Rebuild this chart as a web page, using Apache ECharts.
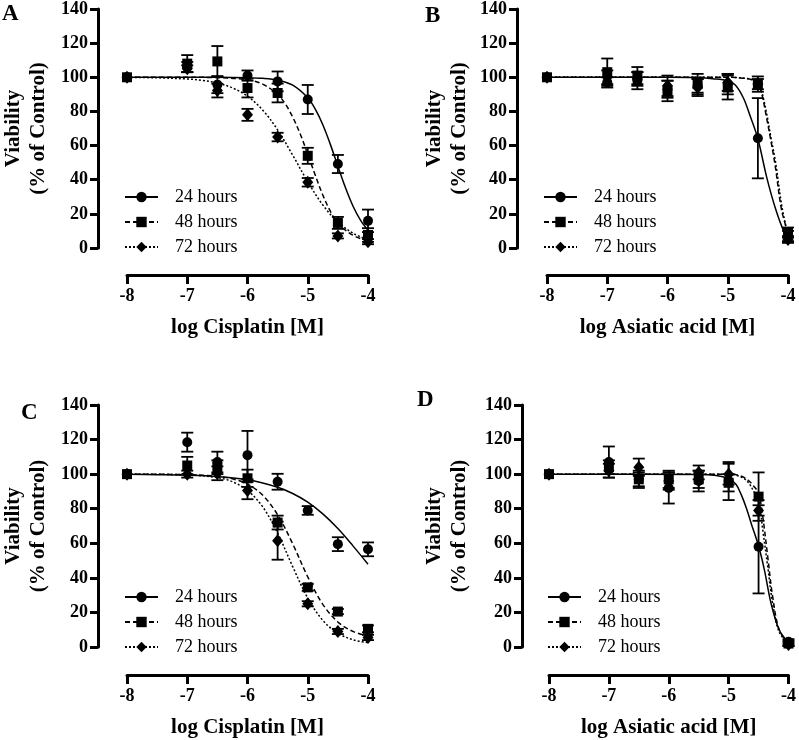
<!DOCTYPE html>
<html><head><meta charset="utf-8">
<script src="https://cdn.jsdelivr.net/npm/echarts@6/dist/echarts.min.js"></script>
<style>html,body{margin:0;padding:0;background:#fff}#c{width:799px;height:740px}</style>
</head><body><div id="c"></div>
<script>
// ---------- data ----------
const doses = [-8, -7, -6.5, -6, -5.5, -5, -4.5, -4];
const timeLabels = ['24 hours', '48 hours', '72 hours'];
const panelLetters = ['A', 'B', 'C', 'D'];
const xTitles = ['log Cisplatin [M]', 'log Asiatic acid [M]', 'log Cisplatin [M]', 'log Asiatic acid [M]'];
const yTitle = 'Viability\n(% of Control)';
const xTicks = [-8, -7, -6, -5, -4];
const yTicks = [0, 20, 40, 60, 80, 100, 120, 140];

// Panel A (cisplatin)
const aMean24 = [100, 106, 95.7, 101, 97.6, 87, 49.2, 15.9];
const aErr24  = [0, 3, 5, 3, 5.8, 8.5, 5.3, 6.6];
const aMean48 = [100, 108, 109.3, 93.7, 90.8, 54, 14.7, 7.6];
const aErr48  = [0, 5, 9, 5.5, 5.5, 4.7, 3.5, 4];
const aMean72 = [100, 105, 92.2, 78, 65, 38.5, 7.1, 3.7];
const aErr72  = [0, 2, 4, 3.5, 2.5, 2.5, 1.5, 1.5];
const aFit24 = [[-8,100],[-7,100],[-6.5,100],[-6,99.8],[-5.75,99.4],[-5.5,98.3],[-5.25,95.4],[-5,88],[-4.875,81.3],[-4.75,72.2],[-4.625,60.7],[-4.5,47.9],[-4.375,35.4],[-4.25,24.6],[-4.125,16.3],[-4,10.4]];
const aFit48 = [[-8,100],[-7,100],[-6.5,99.8],[-6,98.5],[-5.75,96],[-5.5,89.9],[-5.375,84.5],[-5.25,76.7],[-5.125,66.8],[-5,54.9],[-4.875,42.6],[-4.75,31],[-4.625,21.5],[-4.5,14.2],[-4.375,10.5],[-4.25,7.5],[-4.125,5.5],[-4,4.5]];
const aFit72 = [[-8,99.9],[-7.5,99.7],[-7,99],[-6.75,98.2],[-6.5,96.6],[-6.25,93.8],[-6,88.9],[-5.75,80.9],[-5.5,69.2],[-5.25,54.4],[-5,38.8],[-4.75,25.2],[-4.5,15.2],[-4.25,8.7],[-4,4.8]];

// Panel B (asiatic acid)
const bMean24 = [100, 97, 98, 93, 95, 96, 64.3, 7];
const bErr24  = [0, 3, 5, 5, 4, 6, 23.5, 3];
const bMean48 = [100, 103, 101, 92, 96, 94, 96, 9];
const bErr48  = [0, 8, 5, 6, 6, 7, 4.5, 3];
const bMean72 = [100, 100, 99, 95, 94, 97, 96, 5];
const bErr72  = [0, 4, 4, 6, 5, 5, 3, 2];
const bFit24 = [[-8,100],[-6,100],[-5.5,99.8],[-5.25,99.2],[-5,98],[-4.875,95.5],[-4.742,88],[-4.625,77],[-4.5,64],[-4.354,41.5],[-4.216,24],[-4.078,10.5],[-4,7]];
const bFit48 = [[-8,100],[-5,100],[-4.75,99.5],[-4.6,98.5],[-4.5,96],[-4.44,91],[-4.354,76],[-4.28,62],[-4.216,49],[-4.105,22],[-4,9]];
const bFit72 = [[-8,100],[-5,100],[-4.75,99.6],[-4.6,98.7],[-4.5,96.5],[-4.44,92],[-4.35,78],[-4.28,64],[-4.21,51],[-4.1,24],[-4,7]];

// Panel C (cisplatin)
const cMean24 = [100, 118.5, 107, 111, 95.6, 79, 59.5, 56.5];
const cErr24  = [0, 5.5, 6, 14, 4.6, 2.5, 4, 4];
const cMean48 = [100, 105, 104, 97.6, 72, 34.5, 20.5, 10.5];
const cErr48  = [0, 5, 4, 5, 4, 2, 1.5, 2];
const cMean72 = [100, 100, 100.5, 90.5, 61.5, 25, 9, 5.5];
const cErr72  = [0, 2, 4, 5, 11, 1.5, 1.5, 1.5];
const cFit24 = [[-8,99.9],[-7.5,99.7],[-7,99.4],[-6.5,98.6],[-6,96.7],[-5.5,92.4],[-5.25,88.8],[-5,83.8],[-4.75,77],[-4.5,68.5],[-4.25,58.5],[-4,47.9]];
const cFit48 = [[-8,100],[-7,99.7],[-6.5,98.8],[-6.25,97.3],[-6,94.2],[-5.75,87.9],[-5.5,76.5],[-5.25,59.7],[-5,40.6],[-4.75,24.7],[-4.5,14.5],[-4.25,9],[-4,6.3]];
const cFit72 = [[-8,100],[-7,99.6],[-6.5,98],[-6.25,95.6],[-6,90.6],[-5.75,81.2],[-5.5,65.9],[-5.25,46.5],[-5,28.3],[-4.75,15.4],[-4.5,8],[-4.25,4.2],[-4,2.5]];

// Panel D (asiatic acid)
const dMean24 = [100, 107, 97, 92, 96, 96, 58, 3];
const dErr24  = [0, 9, 5, 9, 6, 11, 27, 1.5];
const dMean48 = [100, 104, 97, 97, 97, 95, 87, 2];
const dErr48  = [0, 4, 4, 5, 5, 5, 14, 1.5];
const dMean72 = [100, 102, 104, 96, 101, 100, 79, 1.5];
const dErr72  = [0, 4, 5, 5, 4, 6, 3, 1];
const dFit24 = [[-8,100],[-5.5,99.8],[-5.25,99.4],[-5,97.5],[-4.875,94],[-4.788,88],[-4.7,80],[-4.623,71.5],[-4.5,58.4],[-4.402,44.5],[-4.292,25.3],[-4.154,9.8],[-4,2.5]];
const dFit48 = [[-8,100],[-5,100],[-4.8,99],[-4.678,96.6],[-4.58,93],[-4.5,89],[-4.43,75.4],[-4.347,52.2],[-4.264,29],[-4.154,9.8],[-4,2]];
const dFit72 = [[-8,100],[-5,100],[-4.8,98.5],[-4.678,95.5],[-4.58,90],[-4.5,85],[-4.43,67.7],[-4.347,46.5],[-4.264,25],[-4.154,8.5],[-4,2]];

// ---------- layout / styling ----------
const FONT = "'Liberation Serif','Times New Roman',serif";
const panels = [
  { means:[aMean24,aMean48,aMean72], errs:[aErr24,aErr48,aErr72], fits:[aFit24,aFit48,aFit72],
    grid:{left:127, top:7, width:241, height:241}, xOff:27, yOff:29, yGap:47, legend:{left:124, top:188}, letter:{left:2, top:3} },
  { means:[bMean24,bMean48,bMean72], errs:[bErr24,bErr48,bErr72], fits:[bFit24,bFit48,bFit72],
    grid:{left:547, top:7, width:241, height:241}, xOff:27, yOff:30, yGap:45, legend:{left:543, top:188}, letter:{left:425, top:5} },
  { means:[cMean24,cMean48,cMean72], errs:[cErr24,cErr48,cErr72], fits:[cFit24,cFit48,cFit72],
    grid:{left:127, top:405, width:241, height:242}, xOff:28, yOff:29, yGap:47, legend:{left:124, top:588}, letter:{left:21, top:402} },
  { means:[dMean24,dMean48,dMean72], errs:[dErr24,dErr48,dErr72], fits:[dFit24,dFit48,dFit72],
    grid:{left:549, top:405, width:242, height:242}, xOff:28, yOff:27, yGap:50, legend:{left:547, top:588}, letter:{left:417, top:389} }
];
const symbols = ['circle', 'rect', 'diamond'];
const symbolSizes = [10, 10, [11, 13]];
const lineTypes = ['solid', [5, 3], [2, 2]];

function errRender(params, api) {
  const x = api.value(0), lo = api.value(1), hi = api.value(2);
  const t = api.coord([x, hi]), b = api.coord([x, lo]);
  const hw = 6, st = { stroke: '#000', lineWidth: 1.8 };
  return { type: 'group', children: [
    { type: 'line', shape: { x1: t[0], y1: t[1], x2: b[0], y2: b[1] }, style: st },
    { type: 'line', shape: { x1: t[0]-hw, y1: t[1], x2: t[0]+hw, y2: t[1] }, style: st },
    { type: 'line', shape: { x1: b[0]-hw, y1: b[1], x2: b[0]+hw, y2: b[1] }, style: st }
  ]};
}

const option = { animation: false, backgroundColor: '#fff',
  title: [], grid: [], xAxis: [], yAxis: [], legend: [], series: [] };

panels.forEach((p, i) => {
  option.title.push({ text: panelLetters[i], left: p.letter.left, top: p.letter.top, padding: 0,
    textStyle: { fontFamily: FONT, fontSize: 23, fontWeight: 'bold', color: '#000' } });
  option.grid.push(Object.assign({ containLabel: false }, p.grid));
  option.xAxis.push({ gridIndex: i, type: 'value', min: xTicks[0], max: xTicks[xTicks.length-1], interval: 1,
    offset: p.xOff, splitLine: { show: false },
    axisLine: { show: true, onZero: false, lineStyle: { color: '#000', width: 3 } },
    axisTick: { show: true, length: 9, lineStyle: { color: '#000', width: 3 } },
    axisLabel: { margin: 12, fontFamily: FONT, fontSize: 18, fontWeight: 'bold', color: '#000' },
    name: xTitles[i], nameLocation: 'middle', nameGap: 42,
    nameTextStyle: { fontFamily: FONT, fontSize: 21, fontWeight: 'bold', color: '#000' } });
  option.yAxis.push({ gridIndex: i, type: 'value', min: yTicks[0], max: yTicks[yTicks.length-1], interval: 20,
    offset: p.yOff, splitLine: { show: false },
    axisLine: { show: true, onZero: false, lineStyle: { color: '#000', width: 3 } },
    axisTick: { show: true, length: 8, lineStyle: { color: '#000', width: 3 } },
    axisLabel: { margin: 10, fontFamily: FONT, fontSize: 18, fontWeight: 'bold', color: '#000' },
    name: yTitle, nameLocation: 'middle', nameGap: p.yGap,
    nameTextStyle: { fontFamily: FONT, fontSize: 21, fontWeight: 'bold', color: '#000', lineHeight: 25 } });
  option.legend.push({ orient: 'vertical', left: p.legend.left, top: p.legend.top, padding: 0,
    itemWidth: 33, itemHeight: 13, itemGap: 7, selectedMode: false, data: timeLabels,
    lineStyle: { width: 2 },
    textStyle: { fontFamily: FONT, fontSize: 18, color: '#000', lineHeight: 18, padding: [0, 0, 0, 12] } });

  for (let k = 0; k < 3; k++) {
    // fitted curve (named, gives legend icon)
    option.series.push({ name: timeLabels[k], type: 'line', xAxisIndex: i, yAxisIndex: i,
      data: p.fits[k], smooth: 0.35, showSymbol: false, symbol: symbols[k], clip: false, z: 2,
      itemStyle: { color: '#000' },
      lineStyle: { color: '#000', width: 1.5, type: lineTypes[k] } });
  }
  for (let k = 0; k < 3; k++) {
    const ed = [];
    doses.forEach((d, j) => { if (p.errs[k][j] > 0) ed.push([d, p.means[k][j] - p.errs[k][j], p.means[k][j] + p.errs[k][j]]); });
    option.series.push({ name: 'err' + i + k, type: 'custom', xAxisIndex: i, yAxisIndex: i,
      renderItem: errRender, data: ed, z: 3, clip: false, encode: { x: 0, y: [1, 2] } });
  }
  for (let k = 0; k < 3; k++) {
    option.series.push({ name: 'pts' + i + k, type: 'scatter', xAxisIndex: i, yAxisIndex: i,
      data: doses.map((d, j) => [d, p.means[k][j]]), symbol: symbols[k], symbolSize: symbolSizes[k],
      itemStyle: { color: '#000', opacity: 1 }, z: 4 });
  }
});

const chart = echarts.init(document.getElementById('c'), null, { renderer: 'canvas' });
chart.setOption(option);
</script></body></html>
